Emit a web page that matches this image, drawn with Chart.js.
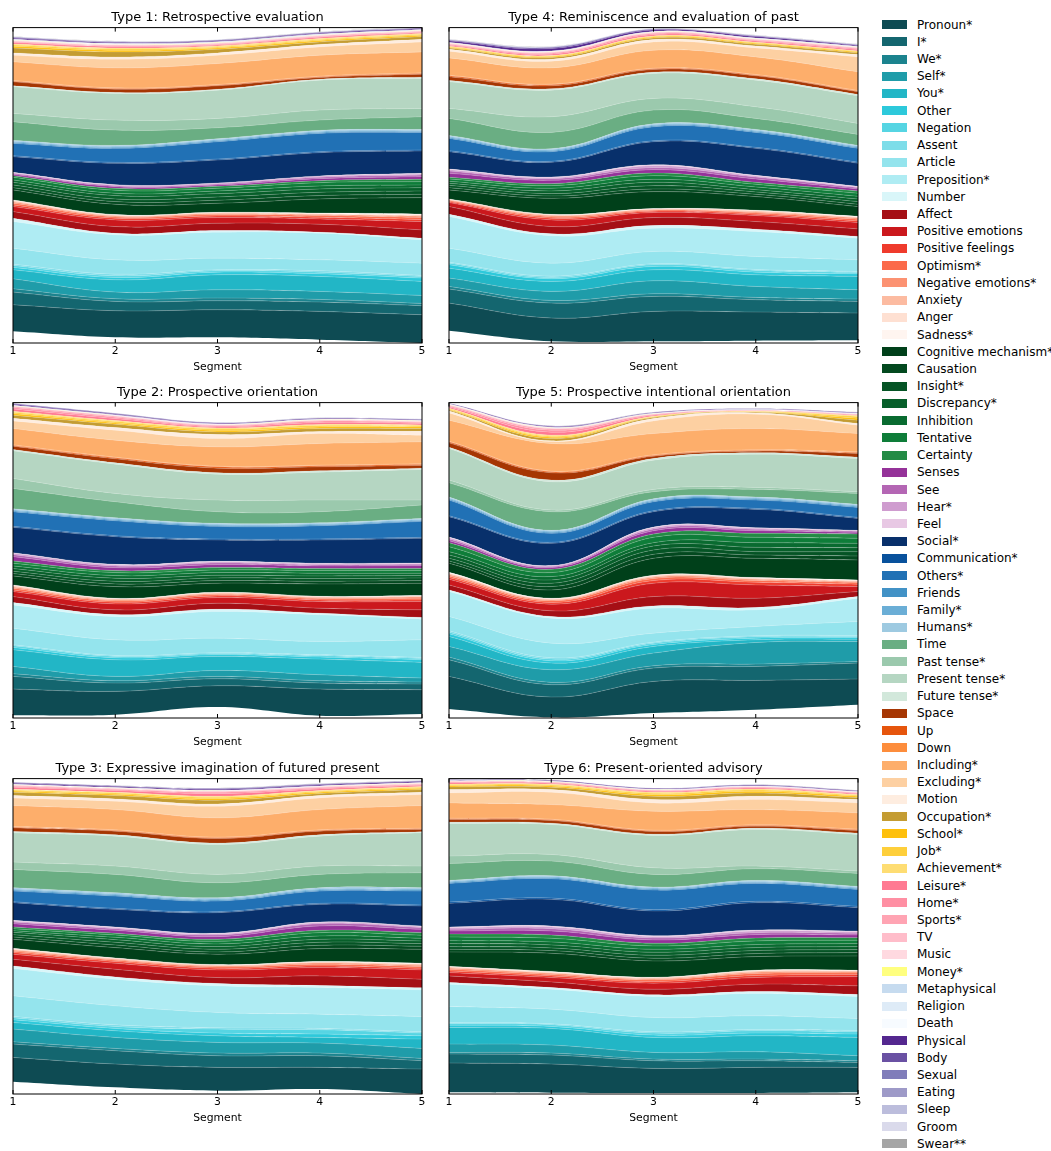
<!DOCTYPE html>
<html>
<head>
<meta charset="utf-8">
<script src="https://cdn.jsdelivr.net/npm/chart.js@4.4.1/dist/chart.umd.min.js"></script>
<style>
  body { margin: 0; background: #fff; width: 1051px; height: 1151px; position: relative; overflow: hidden; font-family: "DejaVu Sans", sans-serif; }
  canvas.panel { position: absolute; }
  #legend { position: absolute; left: 882px; top: 16px; }
  #legend .item { height: 17.22px; display: flex; align-items: center; font-size: 12px; color: #000; white-space: nowrap; }
  #legend .swatch { width: 25px; height: 9px; margin-right: 10px; flex: none; }
</style>
</head>
<body>
<canvas class="panel" id="p1" width="435" height="380" style="left:0;top:0"></canvas>
<canvas class="panel" id="p4" width="435" height="380" style="left:436px;top:0"></canvas>
<canvas class="panel" id="p2" width="435" height="380" style="left:0;top:375px"></canvas>
<canvas class="panel" id="p5" width="435" height="380" style="left:436px;top:375px"></canvas>
<canvas class="panel" id="p3" width="435" height="380" style="left:0;top:751px"></canvas>
<canvas class="panel" id="p6" width="435" height="380" style="left:436px;top:751px"></canvas>
<div id="legend"></div>
<script>
const segments = ['1', '2', '3', '4', '5'];

const categories = [
  'Pronoun*', 'I*', 'We*', 'Self*', 'You*', 'Other', 'Negation', 'Assent', 'Article', 'Preposition*', 'Number',
  'Affect', 'Positive emotions', 'Positive feelings', 'Optimism*', 'Negative emotions*', 'Anxiety', 'Anger', 'Sadness*',
  'Cognitive mechanism*', 'Causation', 'Insight*', 'Discrepancy*', 'Inhibition', 'Tentative', 'Certainty',
  'Senses', 'See', 'Hear*', 'Feel',
  'Social*', 'Communication*', 'Others*', 'Friends', 'Family*', 'Humans*',
  'Time', 'Past tense*', 'Present tense*', 'Future tense*',
  'Space', 'Up', 'Down', 'Including*', 'Excluding*', 'Motion',
  'Occupation*', 'School*', 'Job*', 'Achievement*',
  'Leisure*', 'Home*', 'Sports*', 'TV', 'Music', 'Money*',
  'Metaphysical', 'Religion', 'Death',
  'Physical', 'Body', 'Sexual', 'Eating', 'Sleep', 'Groom', 'Swear**'
];

const colors = [
  '#0e4b53', '#14666f', '#1b838e', '#1f9ca9', '#22b6c6', '#2dc9db', '#56d5e3', '#7ddde9', '#94e4ed', '#afecf3', '#d9f6f9',
  '#a50f15', '#cb181d', '#ef3b2c', '#fb6a4a', '#fc9272', '#fcbba1', '#fee0d2', '#fff5f0',
  '#00401a', '#03491f', '#055425', '#075f2a', '#096b30', '#0e7d39', '#238b45',
  '#953299', '#b466b4', '#cf9ccf', '#e8c8e4',
  '#08306b', '#08519c', '#2171b5', '#4292c6', '#6baed6', '#9ecae1',
  '#6aae83', '#9bc9ad', '#b5d6c2', '#d2e8db',
  '#a63603', '#e6550d', '#fd8d3c', '#fdae6b', '#fdd0a2', '#feede0',
  '#c49c32', '#fec00c', '#fecf3b', '#fedd73',
  '#ff7a92', '#ff8fa3', '#ffa4b3', '#ffbdca', '#ffd9e0', '#ffff7f',
  '#c6dbef', '#deebf7', '#f7fbff',
  '#54278f', '#6a51a3', '#807dba', '#9e9ac8', '#bcbddc', '#dadaeb', '#a5a5a5'
];

const titles = {
  p1: 'Type 1: Retrospective evaluation',
  p2: 'Type 2: Prospective orientation',
  p3: 'Type 3: Expressive imagination of futured present',
  p4: 'Type 4: Reminiscence and evaluation of past',
  p5: 'Type 5: Prospective intentional orientation',
  p6: 'Type 6: Present-oriented advisory'
};

// streamgraph offset under the first layer, per segment
const base1 = [35, 17, 17, 10, 0];
const base2 = [8, 10, 33, 7, 12];
const base3 = [37, 20, 10, 15, 0];
const base4 = [37, 5, 5, 7, 8];
const base5 = [27, 2, 15, 25, 40];
const base6 = [5, 4, 3, 3, 5];

// one row per category (same order as categories), one value per segment
const type1 = [
  [80,80,83,85,85],[38,28,27,28,27],[10,8,8,8,7],[30,20,25,24,24],[27,37,45,45,42],[7,7,8,8,10],[6,5,4,5,5],[4,5,3,4,3],[48,43,35,33,37],[80,75,78,80,70],[10,5,5,3,5],
  [20,20,22,24,25],[15,20,17,16,25],[5,5,5,5,6],[5,4,4,5,6],[4,3,3,3,4],[3,2,2,2,3],[2,1,1,1,2],[1,1,1,2,2],
  [30,31,27,42,49],[7,8,9,10,10],[8,8,10,10,10],[8,10,10,10,10],[7,7,8,9,8],[8,9,8,10,10],[5,6,6,6,7],
  [4,5,4,6,8],[3,3,3,4,5],[2,2,2,3,3],[1,1,1,1,2],
  [47,64,69,70,67],[3,3,3,3,3],[37,42,52,55,53],[3,3,3,3,3],[3,3,3,3,3],[3,3,3,3,3],
  [56,46,33,31,38],[25,30,28,30,25],[80,80,85,90,90],[3,3,3,3,4],
  [12,10,10,5,9],[2,2,2,2,2],[2,2,2,2,2],[56,60,63,63,63],[20,26,25,25,30],[7,7,7,7,8],
  [15,15,11,8,8],[5,5,4,4,4],[4,4,3,3,3],[3,3,3,3,2],
  [4,4,3,4,3],[2,2,2,2,2],[2,2,2,2,2],[1,1,1,1,1],[1,1,1,1,1],[1,1,1,1,1],
  [1,1,1,1,1],[1,1,1,1,1],[1,0.5,0.5,0.5,0.5],
  [3,2.5,2.5,2.5,2.5],[2,2,2,2,2],[1,0.5,0.5,0.5,0.5],[0.5,0.5,0.5,0.5,0.5],[0.5,0.5,0.5,0.5,0.5],[0.5,0.5,0.5,0.5,0.5],[0.5,0.5,0.5,0.5,0.5]
];

const type2 = [
  [79,70,64,80,73],[38,25,21,18,17],[8,7,7,7,6],[22,13,18,18,12],[50,50,42,47,47],[7,6,5,6,8],[5,4,3,4,4],[3,3,3,3,3],[50,47,44,40,53],[70,70,80,80,62],[7,6,7,5,5],
  [18,14,18,15,23],[15,18,17,20,25],[5,5,5,5,5],[5,4,4,4,5],[4,3,3,3,4],[3,3,2,2,2],[2,1,1,1,1],[1,1,1,1,1],
  [27,35,27,37,37],[7,8,8,8,8],[7,8,8,8,8],[8,9,8,8,7],[8,8,8,8,7],[8,9,8,8,8],[7,6,7,6,6],
  [13,9,9,8,9],[6,5,5,4,4],[4,3,3,3,2],[2,2,2,1,2],
  [76,83,64,70,74],[3,3,3,3,3],[44,45,38,40,48],[3,3,3,3,3],[3,3,3,3,3],[3,3,3,3,3],
  [61,48,35,33,40],[30,25,35,35,15],[83,88,78,84,92],[4,4,4,4,4],
  [10,12,14,12,8],[2,3,4,3,3],[2,2,2,2,2],[49,51,58,65,66],[23,30,25,30,20],[8,8,12,6,12],
  [9,10,8,9,8],[5,4,5,5,5],[4,4,4,4,3],[3,3,3,3,3],
  [7,6,3,6,4],[4,4,3,4,3],[3,3,2,2,2],[1,1,1,1,1],[1,1,1,1,1],[0.5,0.5,0.5,0.5,0.5],
  [0.5,0.5,0.5,0.5,0.5],[0.5,0.5,0.5,0.5,0.5],[0.5,0.5,0.5,0.5,0.5],
  [3,2,2,2,2],[2,2,1,1,1.5],[0.5,0.5,0.5,0.5,0.5],[0.4,0.4,0.4,0.4,0.4],[0.4,0.4,0.4,0.4,0.4],[0.3,0.3,0.3,0.3,0.3],[0.4,0.4,0.4,0.4,0.4]
];

const type3 = [
  [73,70,70,65,75],[40,40,35,35,25],[7,7,8,8,7],[38,33,32,30,30],[20,20,20,17,28],[8,7,8,10,10],[6,6,12,13,8],[4,5,4,4,4],[62,57,46,43,46],[82,80,80,80,80],[8,7,7,6,6],
  [20,23,18,29,26],[15,18,23,25,28],[5,5,5,5,5],[4,4,4,5,5],[4,3,3,4,4],[2,2,2,2,3],[2,1,1,1,2],[1,1,1,1,1],
  [27,31,31,39,42],[7,8,7,10,9],[7,8,8,9,8],[7,8,8,9,8],[5,7,8,10,8],[6,7,8,10,9],[5,5,6,7,8],
  [10,9,8,13,10],[5,5,5,7,5],[3,3,3,3,3],[2,2,2,2,2],
  [53,53,62,53,60],[3,3,3,3,3],[32,37,32,37,42],[3,3,3,3,3],[3,3,3,3,3],[4,4,4,4,4],
  [55,55,45,40,45],[22,25,25,25,20],[88,90,90,90,100],[4,4,4,4,3],
  [11,11,14,11,7],[2,2,2,2,2],[2,2,2,2,2],[63,61,58,61,68],[23,25,35,35,33],[7,7,7,7,7],
  [10,10,11,6,8],[4,4,5,4,4],[3,4,4,3,3],[2,2,3,2,2],
  [6,5,8,5,4],[3,3,4,3,2],[2,2,2,2,2],[1,1,1,1,1],[1,1,1,1,1],[0.5,0.5,0.5,0.5,0.5],
  [0.5,0.5,0.5,0.5,0.5],[0.5,0.5,0.5,0.5,0.5],[0.5,0.5,0.5,0.5,0.5],
  [3,3,3,3,3],[2,2,2,2,2],[0.4,0.4,0.4,0.4,0.4],[0.4,0.4,0.4,0.4,0.4],[0.4,0.4,0.4,0.4,0.4],[0.4,0.4,0.4,0.4,0.4],[0.4,0.4,0.4,0.4,0.4]
];

const type4 = [
  [83,70,90,86,82],[42,45,45,37,35],[8,8,8,7,7],[25,27,39,33,28],[30,30,33,35,40],[10,8,10,8,8],[5,4,5,5,4],[3,4,3,3,3],[42,39,37,39,35],[95,82,70,75,65],[7,6,8,7,5],
  [23,22,24,23,23],[12,20,15,18,19],[3,5,4,4,5],[3,4,3,4,5],[2,4,2,3,4],[1,2,1,3,2],[1,1,1,1,1],[1,1,1,1,2],
  [27,48,51,41,29],[7,7,8,7,7],[7,7,10,7,8],[6,8,10,7,8],[6,8,9,8,8],[7,8,11,8,9],[5,6,8,6,7],
  [12,10,10,10,6],[7,5,6,6,4],[4,3,6,3,2],[2,2,3,2,2],
  [52,44,69,81,69],[3,3,3,3,3],[37,29,42,45,42],[3,3,3,3,3],[3,3,3,3,3],[3,3,3,3,3],
  [51,49,41,33,33],[30,47,35,35,33],[80,80,75,80,83],[4,4,4,4,4],
  [11,9,8,9,8],[3,3,2,2,2],[2,2,2,2,2],[52,49,54,53,56],[20,20,25,27,45],[6,6,7,6,7],
  [4,5,5,5,5],[2,3,3,3,3],[2,2,2,2,2],[1,1,1,1,1],
  [3,4,4,4,4],[2,3,3,2,3],[2,2,2,2,2],[1,1,1,1,1],[1,1,1,1,1],[0.5,0.5,0.5,0.5,0.5],
  [0.5,0.5,0.5,0.5,0.5],[1,1,1,1,1],[0.5,0.5,0.5,0.5,0.5],
  [4.5,7.5,4.5,4.5,2.5],[2,3,2,2,2],[1,1,0.5,0.5,0.5],[0.5,0.5,0.5,0.5,0.5],[0.5,1,0.5,0.5,0.5],[0.5,0.5,0.5,0.5,0.5],[0.5,1,0.5,0.5,0.5]
];

const type5 = [
  [98,61,95,88,77],[50,37,40,42,48],[8,7,7,7,5],[32,38,38,65,60],[30,20,20,8,7],[8,7,6,5,5],[5,5,4,4,3],[4,4,3,3,3],[43,44,27,28,42],[75,75,75,50,70],[5,5,7,7,5],
  [15,17,28,28,15],[17,20,40,40,15],[5,5,8,8,7],[5,5,6,5,5],[4,3,4,4,3],[3,2,3,2,2],[2,2,2,2,2],[2,1,1,1,1],
  [27,25,51,58,60],[7,10,12,10,12],[8,10,13,10,13],[10,10,12,13,12],[10,10,10,14,13],[15,12,16,16,15],[12,10,10,12,13],
  [6,5,10,8,5],[5,3,5,4,3],[4,2,4,3,2],[2,1,2,2,1],
  [61,67,46,55,36],[3,3,3,3,3],[47,27,27,25,30],[3,3,3,3,3],[3,3,3,3,3],[3,3,3,3,3],
  [43,56,21,23,33],[8,5,7,6,5],[95,85,88,100,100],[4,5,5,4,4],
  [13,22,7,5,11],[3,3,2,2,3],[2,2,2,2,2],[63,83,64,64,55],[22,6,38,43,25],[6,2,7,4,5],
  [3,7,3,2,10],[2,4,2,1,6],[2,3,1,1,5],[1,3,1,1,3],
  [4,9,3,1,2],[3,6,2,1,1],[2,4,1,0.5,1],[1,2,0.5,0.5,0.5],[0.5,1,0.5,0.5,0.5],[0.5,0.5,0.5,0.5,0.5],
  [0.5,0.5,0.5,0.5,0.5],[0.5,0.5,0.5,0.5,0.5],[0.5,0.5,0.5,0.5,0.5],
  [1.5,2,1.5,1,1.5],[1,1.5,1,1,1],[0.2,0.3,0.2,0.2,0.2],[0.2,0.3,0.2,0.2,0.2],[0.2,0.3,0.2,0.2,0.2],[0.2,0.3,0.2,0.2,0.2],[0.2,0.3,0.2,0.2,0.2]
];

const type6 = [
  [88,86,74,77,75],[27,27,23,20,15],[5,6,5,5,5],[25,24,20,22,15],[50,50,45,48,55],[7,6,7,8,10],[5,5,6,7,7],[3,3,4,4,4],[48,44,43,41,36],[67,60,63,67,66],[5,5,5,6,6],
  [20,17,17,22,26],[10,13,18,20,28],[5,5,5,6,6],[5,4,5,6,5],[4,4,3,4,4],[3,2,3,3,2],[1,2,1,2,1],[1,1,1,1,1],
  [43,55,49,41,43],[8,8,8,9,10],[8,8,9,9,9],[9,9,9,9,9],[9,9,9,9,9],[11,11,10,11,10],[9,10,8,9,8],
  [9,12,10,10,8],[5,7,6,6,5],[4,5,4,5,4],[3,3,3,3,3],
  [71,80,74,82,70],[4,4,4,4,4],[56,58,59,54,51],[3,3,3,3,3],[3,3,3,3,3],[3,3,3,3,3],
  [51,44,38,35,39],[22,20,20,8,7],[98,90,97,110,110],[4,4,4,4,4],
  [8,8,8,6,8],[2,2,2,2,2],[2,2,2,2,2],[46,44,57,46,49],[30,37,25,30,30],[10,8,10,10,10],
  [8,7,10,10,6],[4,4,5,5,4],[3,3,4,4,3],[2,2,3,3,2],
  [4,3,3,3,3],[2,2,2,2,2],[1,1,1,1,1],[0.5,0.5,0.5,0.5,0.5],[0.5,0.5,0.5,0.5,0.5],[0.5,0.5,0.5,0.5,0.5],
  [0.5,0.5,0.5,0.5,0.5],[0.5,0.5,0.5,0.5,0.5],[0.5,0.5,0.5,0.5,0.5],
  [2,2,2,2,2],[1,1,1,1,1],[0.2,0.2,0.2,0.2,0.2],[0.2,0.2,0.2,0.2,0.2],[0.2,0.2,0.2,0.2,0.2],[0.2,0.2,0.2,0.2,0.2],[0.2,0.2,0.2,0.2,0.2]
];

const font = 'DejaVu Sans';

// box around the plot plus inward ticks on top and bottom
const frame = {
  id: 'frame',
  afterDraw: function(chart) {
    const ctx = chart.ctx;
    const a = chart.chartArea;
    const x = chart.scales.x;
    ctx.save();
    ctx.strokeStyle = '#000';
    ctx.lineWidth = 1;
    ctx.strokeRect(a.left, a.top, a.right - a.left, a.bottom - a.top);
    ctx.beginPath();
    segments.forEach(function(s, i) {
      const px = x.getPixelForValue(i);
      ctx.moveTo(px, a.bottom);
      ctx.lineTo(px, a.bottom - 4);
      ctx.moveTo(px, a.top);
      ctx.lineTo(px, a.top + 4);
    });
    ctx.stroke();
    ctx.restore();
  }
};

function makePanel(id, base, layers) {
  let datasets = [{
    label: 'baseline',
    data: base,
    fill: false,
    borderWidth: 0,
    borderColor: 'rgba(0,0,0,0)',
    backgroundColor: 'rgba(0,0,0,0)',
    pointRadius: 0
  }];
  layers.forEach(function(row, i) {
    datasets.push({
      label: categories[i],
      data: row,
      fill: '-1',
      backgroundColor: colors[i],
      borderColor: 'rgba(255,255,255,0.25)',
      borderWidth: 0.7,
      pointRadius: 0
    });
  });

  new Chart(document.getElementById(id), {
    type: 'line',
    data: { labels: segments, datasets: datasets },
    options: {
      responsive: false,
      animation: false,
      events: [],
      layout: { padding: { left: 13, right: 13, top: 0, bottom: 0 } },
      elements: { line: { tension: 0.4 } },
      scales: {
        x: {
          offset: false,
          grid: { display: false, drawTicks: false },
          border: { display: false },
          ticks: { color: '#000', font: { family: font, size: 10.8 }, padding: 2, maxRotation: 0 },
          title: { display: true, text: 'Segment', color: '#000', font: { family: font, size: 10.8 }, padding: { top: 2, bottom: 6 } },
          afterFit: function(scale) { scale.height = 37; }
        },
        y: { display: false, stacked: true, min: 0, max: 948 }
      },
      plugins: {
        legend: { display: false },
        tooltip: { enabled: false },
        title: {
          display: true,
          text: titles[id],
          color: '#000',
          font: { family: font, size: 13, weight: 'normal' },
          padding: { top: 10, bottom: 2 }
        }
      }
    },
    plugins: [frame]
  });
}

makePanel('p1', base1, type1);
makePanel('p2', base2, type2);
makePanel('p3', base3, type3);
makePanel('p4', base4, type4);
makePanel('p5', base5, type5);
makePanel('p6', base6, type6);

// legend, one row per category
let legend = document.getElementById('legend');
categories.forEach(function(name, i) {
  let item = document.createElement('div');
  item.className = 'item';
  let swatch = document.createElement('span');
  swatch.className = 'swatch';
  swatch.style.background = colors[i];
  let label = document.createElement('span');
  label.textContent = name;
  item.appendChild(swatch);
  item.appendChild(label);
  legend.appendChild(item);
});
</script>
</body>
</html>
